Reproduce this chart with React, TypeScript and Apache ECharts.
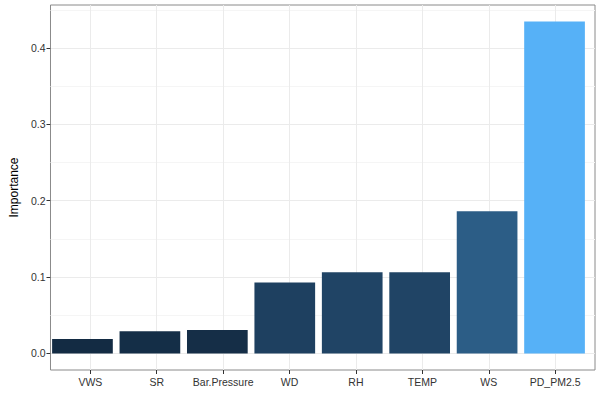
import { useEffect, useRef } from "react";
import * as echarts from "echarts";

const categories = ["VWS", "SR", "Bar.Pressure", "WD", "RH", "TEMP", "WS", "PD_PM2.5"];
const importance = [0.0188, 0.029, 0.0306, 0.093, 0.1064, 0.1064, 0.186, 0.4345];
const yTicks = [0, 0.1, 0.2, 0.3, 0.4];
const yMinorTicks = [0.05, 0.15, 0.25, 0.35, 0.45];
const xTicks = categories.map((_, i) => i);
const lowColor = "#132B43";
const highColor = "#56B1F7";

// Lab interpolation (as ggplot's scale_fill_gradient)
function hexToRgb(h: string) {
  const n = parseInt(h.slice(1), 16);
  return [(n >> 16) & 255, (n >> 8) & 255, n & 255];
}
function srgbToLin(c: number) {
  c /= 255;
  return c <= 0.04045 ? c / 12.92 : Math.pow((c + 0.055) / 1.055, 2.4);
}
function linToSrgb(c: number) {
  const v = c <= 0.0031308 ? 12.92 * c : 1.055 * Math.pow(c, 1 / 2.4) - 0.055;
  return Math.max(0, Math.min(255, Math.round(v * 255)));
}
const Xn = 0.95047, Yn = 1.0, Zn = 1.08883;
function f(t: number) {
  return t > 0.008856 ? Math.cbrt(t) : 7.787 * t + 16 / 116;
}
function finv(t: number) {
  return t > 0.206893 ? t * t * t : (t - 16 / 116) / 7.787;
}
function toLab(hex: string) {
  const [r, g, b] = hexToRgb(hex).map(srgbToLin);
  const x = r * 0.4124 + g * 0.3576 + b * 0.1805;
  const y = r * 0.2126 + g * 0.7152 + b * 0.0722;
  const z = r * 0.0193 + g * 0.1192 + b * 0.9505;
  const fx = f(x / Xn), fy = f(y / Yn), fz = f(z / Zn);
  return [116 * fy - 16, 500 * (fx - fy), 200 * (fy - fz)];
}
function fromLab(L: number, a: number, bb: number) {
  const fy = (L + 16) / 116;
  const fx = fy + a / 500;
  const fz = fy - bb / 200;
  const x = Xn * finv(fx), y = Yn * finv(fy), z = Zn * finv(fz);
  const r = x * 3.2406 + y * -1.5372 + z * -0.4986;
  const g = x * -0.9689 + y * 1.8758 + z * 0.0415;
  const b = x * 0.0557 + y * -0.204 + z * 1.057;
  return `rgb(${linToSrgb(r)},${linToSrgb(g)},${linToSrgb(b)})`;
}
const labLow = toLab(lowColor);
const labHigh = toLab(highColor);
const vMin = Math.min(...importance);
const vMax = Math.max(...importance);
function fillFor(v: number) {
  const t = (v - vMin) / (vMax - vMin);
  return fromLab(
    labLow[0] + t * (labHigh[0] - labLow[0]),
    labLow[1] + t * (labHigh[1] - labLow[1]),
    labLow[2] + t * (labHigh[2] - labLow[2])
  );
}

const W = 602;
const H = 397;
const gridLeft = 42;
const gridRight = 7;
const gridTop = 5;
const gridBottom = 27;
const xExpand = 0.6;
const xMin = -xExpand;
const xMax = categories.length - 1 + xExpand;
const expandY = (vMax - 0) * 0.05;
const yMin = 0 - expandY;
const yMax = vMax + expandY;

export default function App() {
  const ref = useRef<HTMLDivElement>(null);
  useEffect(() => {
    if (!ref.current) return;
    const chart = echarts.init(ref.current, undefined, { renderer: "svg" });
    const plotW = W - gridLeft - gridRight;
    const unit = plotW / (xMax - xMin);
    const inset = unit * (xExpand - 0.5);
    const labelFont = "'Liberation Sans', Arial, sans-serif";
    chart.setOption({
      animation: false,
      backgroundColor: "#ffffff",
      grid: [
        {
          left: gridLeft,
          right: gridRight,
          top: gridTop,
          bottom: gridBottom,
          containLabel: false,
          show: true,
          borderColor: "#8a8a8a",
          borderWidth: 1,
          backgroundColor: "transparent",
          z: 0,
        },
        {
          left: gridLeft + inset,
          right: gridRight + inset,
          top: gridTop,
          bottom: gridBottom,
          containLabel: false,
          show: false,
        },
      ],
      xAxis: [
        {
          type: "value",
          gridIndex: 0,
          min: xMin,
          max: xMax,
          axisLine: { show: false, onZero: false },
          axisTick: {
            show: true,
            length: 4,
            customValues: xTicks,
            lineStyle: { color: "#333333", width: 1 },
          },
          axisLabel: {
            customValues: xTicks,
            formatter: (v: number) => categories[Math.round(v)] ?? "",
            color: "#333333",
            fontSize: 10.5,
            fontFamily: labelFont,
            margin: 6,
          },
          splitLine: { show: true, lineStyle: { color: "#ebebeb", width: 1 } },
        },
        {
          type: "category",
          gridIndex: 1,
          data: categories,
          boundaryGap: true,
          show: false,
          axisLine: { show: false, onZero: false },
        },
      ],
      yAxis: [
        {
          type: "value",
          gridIndex: 0,
          min: yMin,
          max: yMax,
          name: "Importance",
          nameLocation: "middle",
          nameGap: 27,
          nameTextStyle: { color: "#000000", fontSize: 12, fontFamily: labelFont },
          axisLine: { show: false, onZero: false },
          axisTick: {
            show: true,
            length: 4,
            customValues: yTicks,
            lineStyle: { color: "#333333", width: 1 },
          },
          axisLabel: {
            customValues: yTicks,
            formatter: (v: number) => v.toFixed(1),
            color: "#333333",
            fontSize: 10.5,
            fontFamily: labelFont,
            margin: 5,
          },
          splitLine: { show: true, lineStyle: { color: "#ebebeb", width: 1 } },
        },
        {
          type: "value",
          gridIndex: 0,
          min: yMin,
          max: yMax,
          position: "left",
          axisLine: { show: false, onZero: false },
          axisTick: { show: false, customValues: yMinorTicks },
          axisLabel: { show: false, customValues: yMinorTicks },
          splitLine: { show: true, lineStyle: { color: "#f5f5f5", width: 1 } },
        },
        {
          type: "value",
          gridIndex: 1,
          min: yMin,
          max: yMax,
          show: false,
          splitLine: { show: false },
          axisLine: { show: false, onZero: false },
        },
      ],
      series: [
        {
          type: "bar",
          xAxisIndex: 1,
          yAxisIndex: 2,
          barWidth: "90%",
          data: importance.map((v) => ({
            value: v,
            itemStyle: { color: fillFor(v) },
          })),
          z: 3,
        },
      ],
    });
    return () => chart.dispose();
  }, []);
  return (
    <div
      ref={ref}
      style={{ position: "fixed", left: 0, top: 0, width: W, height: H, background: "#fff" }}
    />
  );
}
